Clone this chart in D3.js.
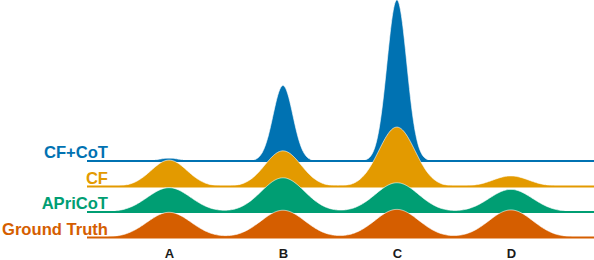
<!DOCTYPE html>
<html>
<head>
<meta charset="utf-8">
<script src="https://cdn.jsdelivr.net/npm/d3@7"></script>
<style>
  body { margin: 0; background: #fff; }
  text { font-family: "Liberation Sans", Arial, sans-serif; font-weight: bold; }
</style>
</head>
<body>
<div id="chart"></div>
<script>
// answer options on the x axis
const options = ['A', 'B', 'C', 'D'];

// methods, top to bottom
const methods = ['CF+CoT', 'CF', 'APriCoT', 'Ground Truth'];

// share of answers given to each option (A, B, C, D)
const cfCot = [0.012, 0.315, 0.673, 0.0];
const cf = [0.20, 0.27, 0.45, 0.08];
const apricot = [0.22, 0.31, 0.265, 0.205];
const groundTruth = [0.233, 0.252, 0.26, 0.255];

// kernel bandwidth (in option units) used to draw each ridge
const bandwidth = [0.087, 0.158, 0.189, 0.193];

const colors = ['#0072B2', '#E39A00', '#009E73', '#D55E00'];

const series = [cfCot, cf, apricot, groundTruth];

const width = 594, height = 260;

const svg = d3.select('#chart').append('svg')
    .attr('width', width)
    .attr('height', height);

// x: option index
const x = d3.scaleLinear()
    .domain([-0.72, 3.73])
    .range([87, 594]);

// row baselines
const row = d3.scalePoint()
    .domain(methods)
    .range([161, 237.5]);

// density -> pixel height
const h = d3.scaleLinear()
    .domain([0, 1])
    .range([0, 52.3]);

const grid = d3.range(0, 501).map(i => x.domain()[0] + (x.domain()[1] - x.domain()[0]) * i / 500);

function density(shares, bw) {
  return grid.map(t => {
    let s = 0;
    shares.forEach((p, i) => {
      const z = (t - i) / bw;
      s += p * Math.exp(-0.5 * z * z) / (bw * Math.sqrt(2 * Math.PI));
    });
    return [t, s];
  });
}

methods.forEach((m, k) => {
  const base = row(m);
  const pts = density(series[k], bandwidth[k]);

  const area = d3.area()
      .x(d => x(d[0]))
      .y0(base)
      .y1(d => base - h(d[1]))
      .curve(d3.curveBasis);

  const line = d3.line()
      .x(d => x(d[0]))
      .y(d => base - h(d[1]))
      .curve(d3.curveBasis);

  const g = svg.append('g').attr('class', 'ridge');

  g.append('path')
      .attr('d', area(pts))
      .attr('fill', colors[k]);

  g.append('path')
      .attr('d', line(pts))
      .attr('fill', 'none')
      .attr('stroke', '#fff')
      .attr('stroke-opacity', 0.6)
      .attr('stroke-width', 1);

  g.append('line')
      .attr('x1', x.range()[0])
      .attr('x2', x.range()[1])
      .attr('y1', base)
      .attr('y2', base)
      .attr('stroke', colors[k])
      .attr('stroke-width', 2);

  g.append('text')
      .attr('x', 108)
      .attr('y', base - 3)
      .attr('text-anchor', 'end')
      .attr('font-size', 16.6)
      .attr('fill', colors[k])
      .text(m);
});

// option labels
const axis = svg.append('g')
    .attr('transform', 'translate(0,249)')
    .call(d3.axisBottom(x).tickValues([0, 1, 2, 3]).tickFormat(i => options[i]).tickSize(0).tickPadding(0));

axis.select('.domain').remove();
axis.selectAll('text')
    .attr('font-size', 13)
    .attr('font-family', '"Liberation Sans", Arial, sans-serif')
    .attr('font-weight', 'bold')
    .attr('fill', '#1a1a1a');
</script>
</body>
</html>
